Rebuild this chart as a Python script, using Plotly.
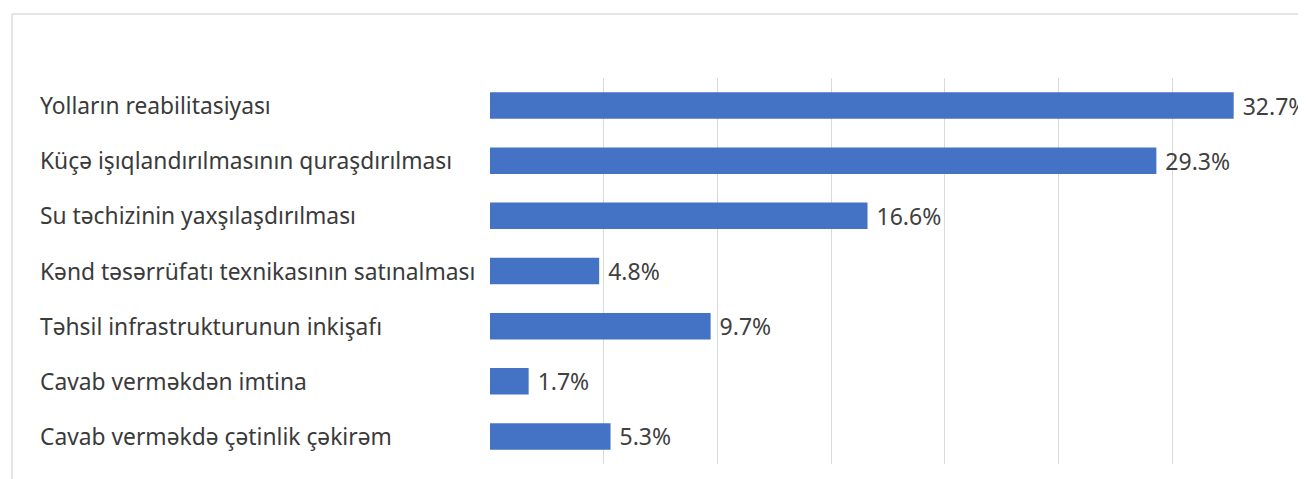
import plotly.graph_objects as go

categories = [
    "Yolların reabilitasiyası",
    "Küçə işıqlandırılmasının quraşdırılması",
    "Su təchizinin yaxşılaşdırılması",
    "Kənd təsərrüfatı texnikasının satınalması",
    "Təhsil infrastrukturunun inkişafı",
    "Cavab verməkdən imtina",
    "Cavab verməkdə çətinlik çəkirəm",
]
values = [32.7, 29.3, 16.6, 4.8, 9.7, 1.7, 5.3]

# page body has an 8px margin, so the figure is a bit smaller and shifted
W, H = 1298, 471
ML, MR, MT, MB = 482, 20, 70, 15
pw = W - ML - MR
ph = H - MT - MB

fig = go.Figure()

fig.add_trace(go.Bar(
    x=values,
    y=categories,
    orientation="h",
    marker=dict(color="#4472C4", line=dict(width=0)),
    texttemplate=" %{x:.1f}%",
    textposition="outside",
    constraintext="none",
    textfont=dict(color="#404040", size=23, family="Noto Sans"),
    cliponaxis=False,
    hoverinfo="skip",
))

# category labels, left aligned like the original
for c in categories:
    fig.add_annotation(
        x=(30 - ML) / pw, xref="paper",
        y=c, yref="y",
        text=c, showarrow=False,
        xanchor="left", yanchor="middle",
        font=dict(color="#3a3a3a", size=22.8, family="Noto Sans"),
    )

# outer chart border (runs off the right and bottom edges)
fig.add_shape(
    type="rect", xref="paper", yref="paper",
    x0=(4 - ML) / pw, x1=1.2,
    y0=-0.3, y1=(H - MB - 6) / ph,
    line=dict(color="#dddddd", width=1.5),
    fillcolor="rgba(0,0,0,0)", layer="below",
)

fig.update_layout(
    width=W, height=H,
    margin=dict(l=ML, r=MR, t=MT, b=MB),
    plot_bgcolor="white", paper_bgcolor="white",
    showlegend=False,
    bargap=0.52,
    xaxis=dict(range=[0, 35], dtick=5, showgrid=True, gridcolor="#d9d9d9",
               gridwidth=1, zeroline=False, showticklabels=False, showline=False),
    yaxis=dict(categoryorder="array", categoryarray=categories[::-1],
               showticklabels=False, showgrid=False, zeroline=False, showline=False),
)

fig.write_html("out.html")
